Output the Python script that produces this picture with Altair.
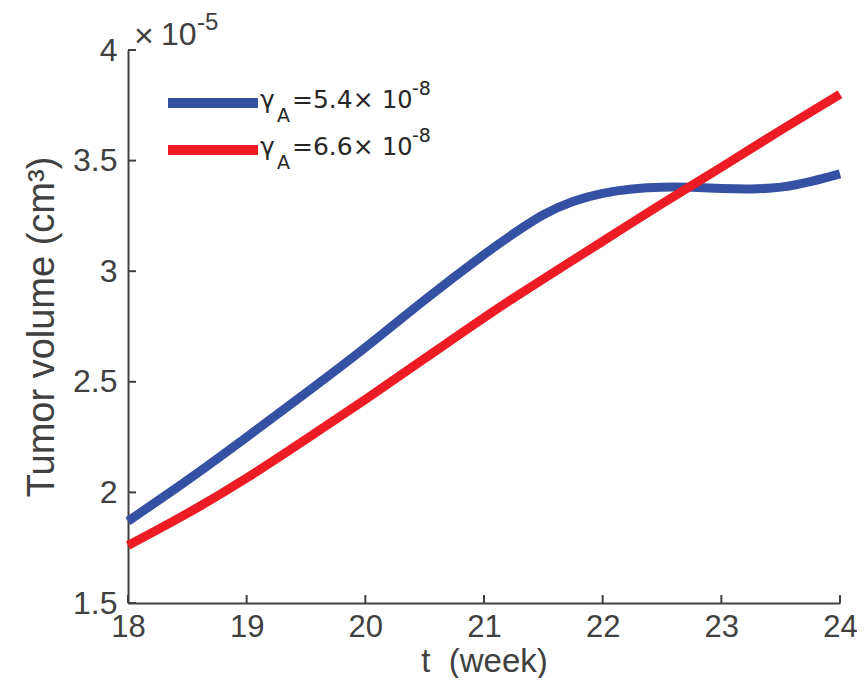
import altair as alt
import pandas as pd

# ---- data (tumor volume in units of 1e-5 cm^3) ----
t_54 = [18, 18.5, 19, 19.5, 20, 20.5, 21, 21.25, 21.5, 21.75, 22, 22.25, 22.5, 22.75, 23, 23.25, 23.5, 23.75, 24]
vol_54 = [1.87, 2.055, 2.25, 2.45, 2.655, 2.87, 3.075, 3.17, 3.255, 3.315, 3.352, 3.372, 3.38, 3.379, 3.374, 3.372, 3.38, 3.405, 3.44]
t_66 = [18, 18.5, 19, 19.5, 20, 20.5, 21, 21.5, 22, 22.5, 23, 23.5, 24]
vol_66 = [1.76, 1.905, 2.065, 2.24, 2.42, 2.605, 2.79, 2.965, 3.135, 3.305, 3.47, 3.637, 3.80]
series = ["gamma_A=5.4e-8", "gamma_A=6.6e-8"]
x_ticks = [18, 19, 20, 21, 22, 23, 24]
y_ticks = [1.5, 2, 2.5, 3, 3.5, 4]

rows = []
for name, ts, vals in zip(series, [t_54, t_66], [vol_54, vol_66]):
    for ti, v in zip(ts, vals):
        rows.append({"t": ti, "v": v, "series": name})
df = pd.DataFrame(rows)

W, H = 712, 553
AX = "#404040"
TXT = "#262626"
BLUE, RED = "#3551A4", "#ED1C24"
FONT = "Liberation Sans"
LFONT = "DejaVu Sans"

xs = alt.Scale(domain=[18, 24], nice=False, zero=False)
ys = alt.Scale(domain=[1.5, 4], nice=False, zero=False)

x_axis = alt.Axis(
    values=x_ticks, ticks=False, tickSize=0, grid=False,
    domainColor=AX, domainWidth=2, labelColor=AX, labelFont=FONT,
    labelFontSize=31, labelPadding=9, labelFlush=False,
    title="t\u00a0\u00a0(week)", titleFont=FONT, titleFontSize=33,
    titleFontWeight="normal", titleColor=AX,
    titleBaseline="alphabetic", titleY=68)
y_axis = alt.Axis(
    values=y_ticks, format="~g", ticks=False, tickSize=0, grid=False,
    domainColor=AX, domainWidth=2, labelColor=AX, labelFont=FONT,
    labelFontSize=32, labelPadding=11, labelFlush=False,
    title="Tumor volume (cm\u00b3)", titleFont=FONT, titleFontSize=38,
    titleFontWeight="normal", titleColor=AX, titlePadding=11)

lines = alt.Chart(df).mark_line(strokeWidth=9, interpolate="natural").encode(
    x=alt.X("t:Q", scale=xs, axis=x_axis),
    y=alt.Y("v:Q", scale=ys, axis=y_axis),
    color=alt.Color("series:N", scale=alt.Scale(domain=series, range=[BLUE, RED]), legend=None),
)

xt = alt.Chart(pd.DataFrame({"t": x_ticks})).mark_rule(color=AX, strokeWidth=2).encode(
    x=alt.X("t:Q", scale=xs, axis=x_axis), y=alt.value(H), y2=alt.value(H - 8))
yt = alt.Chart(pd.DataFrame({"v": y_ticks})).mark_rule(color=AX, strokeWidth=2).encode(
    y=alt.Y("v:Q", scale=ys, axis=y_axis), x=alt.value(0), x2=alt.value(8))

one = pd.DataFrame({"a": [0]})


def txt(s, x, y, size, font=FONT, color=AX, align="left", baseline="alphabetic"):
    return alt.Chart(one).mark_text(text=s, font=font, fontSize=size, color=color,
                                    align=align, baseline=baseline).encode(
        x=alt.value(x), y=alt.value(y))


expo = [
    txt("\u00d7", 16, -13, 34, align="center", baseline="middle"),
    txt("10", 33, -5, 32),
    txt("-5", 69, -20, 24),
]

legend_layers = []
for i, (col, val) in enumerate([(BLUE, "=5.4\u00d7"), (RED, "=6.6\u00d7")]):
    ly = 53 + 47 * i
    bl = ly + 5
    legend_layers.append(
        alt.Chart(one).mark_rule(color=col, strokeWidth=10).encode(
            x=alt.value(40), x2=alt.value(130), y=alt.value(ly)))
    legend_layers += [
        txt("\u03b3", 132, bl, 25, font=LFONT, color=TXT),
        txt("A", 149, bl + 14, 19, font=LFONT, color=TXT),
        txt(val, 164, bl, 25, font=LFONT, color=TXT),
        txt("10", 254, bl, 24, font=LFONT, color=TXT),
        txt("-8", 284, bl - 13, 19, font=LFONT, color=TXT),
    ]

chart = alt.layer(lines, xt, yt, *expo, *legend_layers).properties(
    width=W, height=H,
    autosize=alt.AutoSizeParams(type="none"),
    padding={"left": 120, "top": 42, "right": 17, "bottom": 75},
    background="white",
).configure_view(stroke=None)

chart.save("out.html", embed_options={"renderer": "svg", "actions": False})
